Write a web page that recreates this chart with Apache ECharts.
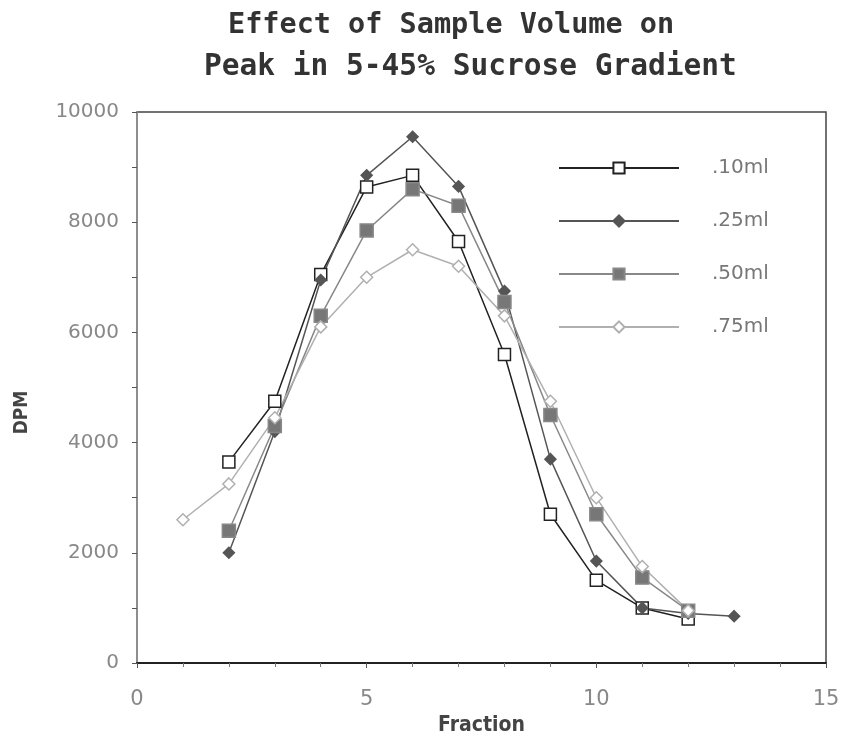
<!DOCTYPE html>
<html>
<head>
<meta charset="utf-8">
<script src="https://cdn.jsdelivr.net/npm/echarts@6/dist/echarts.min.js"></script>
<style>
  html, body { margin: 0; padding: 0; background: #fff; }
  #chart { width: 842px; height: 737px; }
</style>
</head>
<body>
<div id="chart"></div>
<script>
// fractions and DPM
const names = ['.10ml', '.25ml', '.50ml', '.75ml'];
const frac10 = [2, 3, 4, 5, 6, 7, 8, 9, 10, 11, 12];
const dpm10 = [3650, 4750, 7050, 8640, 8850, 7650, 5600, 2700, 1500, 1000, 800];
const frac25 = [2, 3, 4, 5, 6, 7, 8, 9, 10, 11, 12, 13];
const dpm25 = [2000, 4200, 6950, 8850, 9550, 8650, 6750, 3700, 1850, 1000, 900, 850];
const frac50 = [2, 3, 4, 5, 6, 7, 8, 9, 10, 11, 12];
const dpm50 = [2400, 4300, 6300, 7850, 8600, 8300, 6550, 4500, 2700, 1550, 950];
const frac75 = [1, 2, 3, 4, 5, 6, 7, 8, 9, 10, 11, 12];
const dpm75 = [2600, 3250, 4450, 6100, 7000, 7500, 7200, 6300, 4750, 3000, 1750, 950];

const pairs = (xs, ys) => xs.map((x, i) => [x, ys[i]]);

const labelFont = 'DejaVu Sans';
const boldFont = 'DejaVu Sans Condensed';
const titleFont = 'DejaVu Sans Mono';

let mychart = echarts.init(document.getElementById('chart'));

const mkSeries = (name, data, color, symbol, size, fill) => ({
  name: name,
  type: 'line',
  data: data,
  symbol: symbol,
  symbolSize: size,
  lineStyle: { color: color, width: 1.5 },
  itemStyle: { color: fill, borderColor: color, borderWidth: 1.5 },
  emphasis: { disabled: true },
  z: 3
});

mychart.setOption({
  animation: false,
  title: [
    {
      text: 'Effect of Sample Volume on',
      left: 223, top: 6,
      textStyle: { fontFamily: titleFont, fontWeight: 'bold', fontSize: 28.5, color: '#333' }
    },
    {
      text: 'Peak in 5-45% Sucrose Gradient',
      left: 199, top: 47,
      textStyle: { fontFamily: titleFont, fontWeight: 'bold', fontSize: 29.5, color: '#333' }
    }
  ],
  grid: {
    left: 137, right: 16, top: 112, bottom: 74,
    outerBoundsMode: 'none',
    show: true, borderColor: '#444', borderWidth: 1.5
  },
  legend: {
    orient: 'vertical',
    left: 553, top: 153,
    itemWidth: 120, itemHeight: 14, itemGap: 33,
    data: names,
    textStyle: { fontFamily: labelFont, fontSize: 20, color: '#777', padding: [0, 0, 0, 28] }
  },
  xAxis: {
    type: 'value',
    min: 0, max: 15, interval: 5,
    name: 'Fraction',
    nameLocation: 'middle',
    nameGap: 50,
    nameTextStyle: { fontFamily: boldFont, fontWeight: 'bold', fontSize: 21, color: '#444' },
    axisLine: { lineStyle: { color: '#222', width: 2 } },
    axisTick: { length: 5, lineStyle: { color: '#555' } },
    minorTick: { show: true, splitNumber: 5, length: 4, lineStyle: { color: '#777' } },
    axisLabel: { fontFamily: labelFont, fontSize: 21, color: '#888', margin: 26 },
    splitLine: { show: false }
  },
  yAxis: {
    type: 'value',
    min: 0, max: 10000, interval: 2000,
    name: 'DPM',
    nameLocation: 'middle',
    nameGap: 105,
    nameRotate: 90,
    nameTextStyle: { fontFamily: boldFont, fontWeight: 'bold', fontSize: 19, color: '#444', padding: [0, 0, 0, -50] },
    axisLine: { show: true, lineStyle: { color: '#999', width: 1.5 } },
    axisTick: { length: 5, lineStyle: { color: '#555' } },
    minorTick: { show: true, splitNumber: 2, length: 5, lineStyle: { color: '#555' } },
    axisLabel: { fontFamily: labelFont, fontSize: 20, color: '#888', margin: 18, formatter: v => String(v) },
    splitLine: { show: false }
  },
  series: [
    mkSeries(names[0], pairs(frac10, dpm10), '#222', 'rect', 12, '#fff'),
    mkSeries(names[1], pairs(frac25, dpm25), '#555', 'diamond', 11, '#555'),
    mkSeries(names[2], pairs(frac50, dpm50), '#888', 'rect', 13, '#777'),
    mkSeries(names[3], pairs(frac75, dpm75), '#b0b0b0', 'diamond', 12, '#fff')
  ]
});
</script>
</body>
</html>
